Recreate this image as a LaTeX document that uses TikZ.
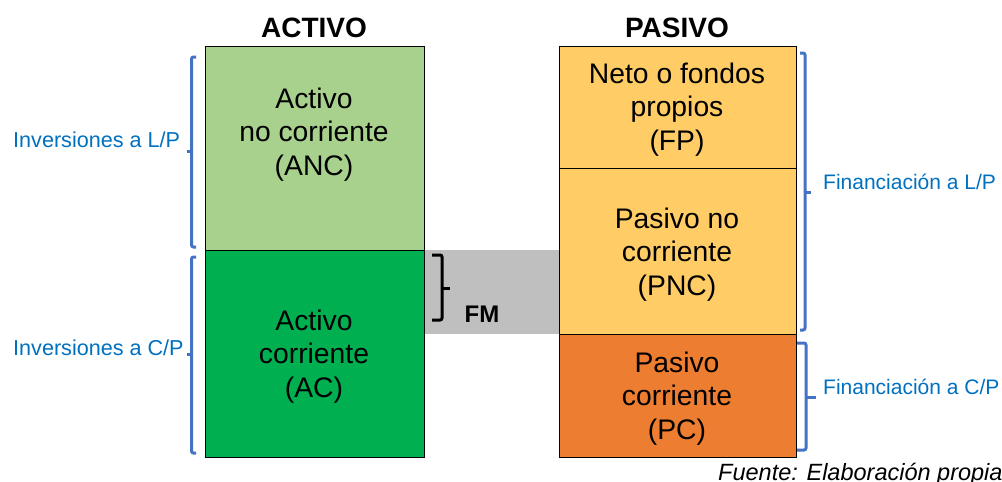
\documentclass[tikz,border=0pt]{standalone}
\usepackage{fontspec}
\setmainfont{Liberation Sans}
\definecolor{ancgreen}{HTML}{A9D18E}
\definecolor{acgreen}{HTML}{00B050}
\definecolor{pasgold}{HTML}{FFCC66}
\definecolor{pcorange}{HTML}{ED7D31}
\definecolor{fmgray}{HTML}{BFBFBF}
\definecolor{bracblue}{HTML}{4472C4}
\definecolor{lblblue}{HTML}{0070C0}
\begin{document}
\begin{tikzpicture} [x=1pt, y=-1pt,
    box/.style={draw, line width=1pt, inner sep=0pt, outer sep=0pt, anchor=north west, minimum width=#1},
    boxtxt/.style={align=center, inner sep=0pt, font=\fontsize{28.3}{33.5}\selectfont},
    hdr/.style={anchor=base, inner sep=0pt, font=\fontsize{28}{33}\selectfont\bfseries},
    lbl/.style={anchor=base west, inner sep=0pt, text=lblblue, font=\fontsize{#1}{25}\selectfont},
    brac/.style={draw=bracblue, line width=3pt, rounded corners=2pt}]
    \useasboundingbox (0,0) rectangle (1002,482);
	\node [box=219pt, minimum height=204pt, fill=ancgreen] (anc) at (205,46) {};
	\node [box=219pt, minimum height=207pt, fill=acgreen] (ac) at (205,250) {};
	\node [box=237pt, minimum height=122pt, fill=pasgold] (fp) at (559,46) {};
	\node [box=237pt, minimum height=166pt, fill=pasgold] (pnc) at (559,168) {};
	\node [box=237pt, minimum height=123pt, fill=pcorange] (pc) at (559,334) {};
	\fill [fmgray] ([xshift=0.5pt]anc.south east) rectangle ([xshift=-0.5pt]pnc.south west);
	\node [boxtxt] (anctxt) at (314,134.5) {Activo\\no corriente\\(ANC)};
	\node [boxtxt] (actxt) at (314,356.5) {Activo\\corriente\\(AC)};
	\node [boxtxt] (fptxt) at (677,109.5) {Neto o fondos\\propios\\(FP)};
	\node [boxtxt] (pnctxt) at (677,254.5) {Pasivo no\\corriente\\(PNC)};
	\node [boxtxt] (pctxt) at (677,398.5) {Pasivo\\corriente\\(PC)};
	\node [hdr] (activo) at (314,37) {ACTIVO};
	\node [hdr] (pasivo) at (677,37) {PASIVO};
	% llaves
	\draw [brac] (196,57) -- (191.5,57) -- (191.5,247) -- (196,247);
	\draw [brac] (191.5,151) -- (187,151);
	\draw [brac] (196,257) -- (191.5,257) -- (191.5,453) -- (196,453);
	\draw [brac] (191.5,354) -- (187,354);
	\draw [brac] (800,53) -- (805,53) -- (805,330) -- (800,330);
	\draw [brac] (805,192) -- (811,192);
	\draw [brac] (797,343) -- (806,343) -- (806,450) -- (797,450);
	\draw [brac] (806,397) -- (816,397);
	\draw [brac, draw=black] (432,255) -- (442,255) -- (442,320) -- (432,320);
	\draw [brac, draw=black] (442,288) -- (450,288);
	\node [anchor=base, inner sep=0pt, font=\fontsize{24}{28}\selectfont\bfseries] (fm) at (482,322) {FM};
	\node [lbl=21.6] (invlp) at (13,147) {Inversiones a L/P};
	\node [lbl=21.6] (invcp) at (13,355) {Inversiones a C/P};
	\node [lbl=21] (finlp) at (823,189) {Financiación a L/P};
	\node [lbl=21] (fincp) at (823,394) {Financiación a C/P};
	\node [anchor=base west, inner sep=0pt, font=\fontsize{23.5}{28}\selectfont\itshape] (fuente) at (718,480) {Fuente: Elaboración propia};
   \end{tikzpicture}
\end{document}
